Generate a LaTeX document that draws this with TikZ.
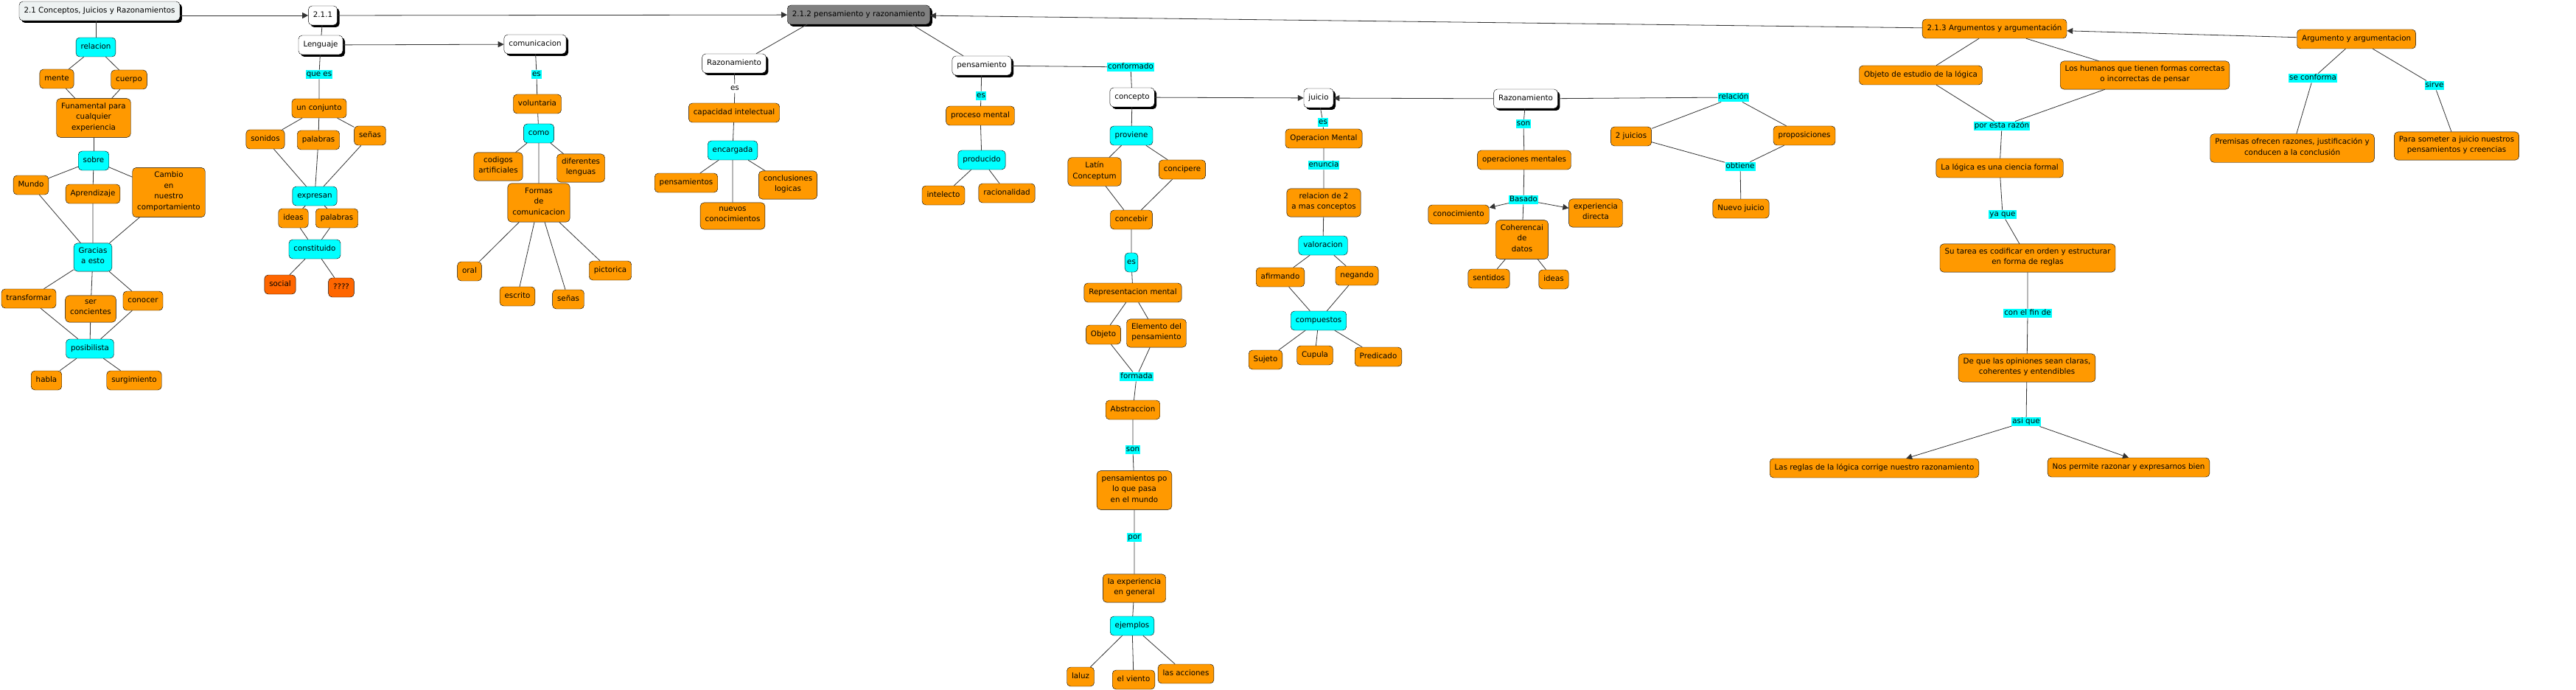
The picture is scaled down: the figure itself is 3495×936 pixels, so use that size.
\documentclass[tikz,border=0pt]{standalone}
\usepackage{fontspec}
\setmainfont{DejaVu Sans}
\usetikzlibrary{shadows, arrows.meta}

\definecolor{maporange}{RGB}{255,153,0}
\definecolor{mapcyan}{RGB}{0,255,255}
\definecolor{mapred}{RGB}{255,102,0}
\definecolor{mapgray}{RGB}{128,128,128}
\definecolor{maptitle}{RGB}{238,242,242}

\begin{document}
\begin{tikzpicture}[x=1pt, y=-1pt, >={Triangle[length=8pt,width=8pt]},
  every node/.style={font=\fontsize{10.3}{14.5}\selectfont, align=center},
  basebox/.style={draw, rounded corners=5pt, inner xsep=6.5pt, inner ysep=5.75pt,
    execute at begin node=\strut, execute at end node=\strut},
  conceptbox/.style={basebox, fill=maporange},
  redbox/.style={basebox, fill=mapred},
  linkbox/.style={basebox, fill=mapcyan},
  topicbox/.style={basebox, fill=white,
    drop shadow={shadow xshift=3pt, shadow yshift=-3pt, opacity=1, fill=black}},
  linkword/.style={fill=mapcyan, inner sep=1pt, text height=8pt, text depth=2.5pt},
  plainword/.style={inner sep=1pt, text height=8pt, text depth=2.5pt},
  connector/.style={draw=black!80, line width=0.8pt}]
  \useasboundingbox (0,0) rectangle (3495,936);

  % 2.1 conceptos
  \node[topicbox, fill=maptitle] (t21) at (135,15) {2.1 Conceptos, Juicios y Razonamientos};
  \node[linkbox] (relacion) at (130,64) {relacion};
  \node[conceptbox] (mente) at (77,107) {mente};
  \node[conceptbox] (cuerpo) at (175,108) {cuerpo};
  \node[conceptbox] (fundam) at (127,160) {Funamental para\\cualquier\\experiencia};
  \node[linkbox] (sobre) at (127,218) {sobre};
  \node[conceptbox] (mundo) at (42,251) {Mundo};
  \node[conceptbox] (aprend) at (126,263) {Aprendizaje};
  \node[conceptbox] (cambio) at (229,261) {Cambio\\en\\nuestro\\comportamiento};
  \node[linkbox] (gracias) at (126,349) {Gracias\\a esto};
  \node[conceptbox] (transf) at (39,405) {transformar};
  \node[conceptbox] (concien) at (123,419) {ser\\concientes};
  \node[conceptbox] (conocer) at (194,408) {conocer};
  \node[linkbox] (posib) at (122,473) {posibilista};
  \node[conceptbox] (habla) at (63,516) {habla};
  \node[conceptbox] (surgim) at (182,516) {surgimiento};

  % 2.1.1 lenguaje
  \node[topicbox] (t211) at (438,21) {2.1.1};
  \node[topicbox] (lenguaje) at (435,61) {Lenguaje};
  \node[linkword] (quees) at (433,101) {que es};
  \node[conceptbox] (conjunto) at (433,147) {un conjunto};
  \node[conceptbox] (sonidos) at (360,189) {sonidos};
  \node[conceptbox] (palabras) at (432,190) {palabras};
  \node[conceptbox] (senas) at (502,184) {señas};
  \node[linkbox] (expresan) at (427,266) {expresan};
  \node[conceptbox] (ideas) at (398,296) {ideas};
  \node[conceptbox] (palabrasb) at (457,296) {palabras};
  \node[linkbox] (constit) at (427,338) {constituido};
  \node[redbox] (social) at (380,386) {social};
  \node[redbox] (incog) at (463,390) {????};

  \node[topicbox] (comunic) at (726,60) {comunicacion};
  \node[linkword] (esA) at (728,101) {es};
  \node[conceptbox] (volunt) at (729,141) {voluntaria};
  \node[linkbox] (como) at (731,181) {como};
  \node[conceptbox] (codigos) at (676,226) {codigos\\artificiales};
  \node[conceptbox] (difer) at (788,228) {diferentes\\lenguas};
  \node[conceptbox] (formas) at (731,275) {Formas\\de\\comunicacion};
  \node[conceptbox] (oral) at (637,368) {oral};
  \node[conceptbox] (escrito) at (702,402) {escrito};
  \node[conceptbox] (senasb) at (771,406) {señas};
  \node[conceptbox] (pictor) at (828,367) {pictorica};

  % 2.1.2 pensamiento
  \node[topicbox, fill=mapgray] (t212) at (1165,20) {2.1.2 pensamiento y razonamiento};
  \node[topicbox] (razonA) at (996,86) {Razonamiento};
  \node[plainword] (esB) at (997,120) {es};
  \node[conceptbox] (capac) at (996,153) {capacidad intelectual};
  \node[linkbox] (encarg) at (994,204) {encargada};
  \node[conceptbox] (pensams) at (931,248) {pensamientos};
  \node[conceptbox] (conclus) at (1069,251) {conclusiones\\logicas};
  \node[conceptbox] (nuevos) at (994,293) {nuevos\\conocimientos};

  \node[topicbox] (pensam) at (1332,89) {pensamiento};
  \node[linkword] (esC) at (1331,130) {es};
  \node[conceptbox] (proceso) at (1330,157) {proceso mental};
  \node[linkbox] (producido) at (1332,217) {producido};
  \node[conceptbox] (intelecto) at (1280,265) {intelecto};
  \node[conceptbox] (racional) at (1366,262) {racionalidad};

  \node[linkword] (conformado) at (1534,91) {conformado};
  \node[topicbox] (concepto) at (1536,132) {concepto};
  \node[linkbox] (proviene) at (1535,184) {proviene};
  \node[conceptbox] (latin) at (1485,233) {Latín\\Conceptum};
  \node[conceptbox] (concipere) at (1604,230) {concipere};
  \node[conceptbox] (concebir) at (1535,298) {concebir};
  \node[linkbox, inner xsep=3pt] (esbox) at (1535,356) {es};
  \node[conceptbox] (repres) at (1537,397) {Representacion mental};
  \node[conceptbox] (objeto) at (1497,454) {Objeto};
  \node[conceptbox] (elemento) at (1569,452) {Elemento del\\pensamiento};
  \node[linkword] (formada) at (1542,511) {formada};
  \node[conceptbox] (abstrac) at (1537,556) {Abstraccion};
  \node[linkword] (sonA) at (1537,610) {son};
  \node[conceptbox] (penspo) at (1539,665) {pensamientos po\\lo que pasa\\en el mundo};
  \node[linkword] (por) at (1539,729) {por};
  \node[conceptbox] (experien) at (1539,798) {la experiencia\\en general};
  \node[linkbox] (ejemplos) at (1536,849) {ejemplos};
  \node[conceptbox] (laluz) at (1466,918) {laluz};
  \node[conceptbox] (viento) at (1538,922) {el viento};
  \node[conceptbox] (acciones) at (1609,914) {las acciones};

  \node[topicbox] (juicio) at (1789,133) {juicio};
  \node[linkword] (esD) at (1795,166) {es};
  \node[conceptbox] (operac) at (1796,188) {Operacion Mental};
  \node[linkword] (enuncia) at (1796,224) {enuncia};
  \node[conceptbox] (relac2) at (1796,275) {relacion de 2\\a mas conceptos};
  \node[linkbox] (valorac) at (1795,333) {valoracion};
  \node[conceptbox] (afirm) at (1737,376) {afirmando};
  \node[conceptbox] (negando) at (1841,374) {negando};
  \node[linkbox] (compuestos) at (1789,435) {compuestos};
  \node[conceptbox] (sujeto) at (1717,488) {Sujeto};
  \node[conceptbox] (cupula) at (1784,482) {Cupula};
  \node[conceptbox] (predic) at (1870,484) {Predicado};

  \node[topicbox] (razonB) at (2070,134) {Razonamiento};
  \node[linkword] (sonB) at (2067,168) {son};
  \node[conceptbox] (operments) at (2068,217) {operaciones mentales};
  \node[linkword] (basado) at (2067,271) {Basado};
  \node[conceptbox] (conocim) at (1979,291) {conocimiento};
  \node[conceptbox] (expdir) at (2165,289) {experiencia\\directa};
  \node[conceptbox] (coheren) at (2065,325) {Coherencai\\de\\datos};
  \node[conceptbox] (sentidos) at (2020,378) {sentidos};
  \node[conceptbox] (ideasb) at (2108,379) {ideas};

  \node[linkword] (relacionB) at (2352,132) {relación};
  \node[conceptbox] (juicios2) at (2213,185) {2 juicios};
  \node[conceptbox] (propos) at (2448,184) {proposiciones};
  \node[linkword] (obtiene) at (2361,226) {obtiene};
  \node[conceptbox] (nuevojuicio) at (2362,283) {Nuevo juicio};

  % 2.1.3 argumentos
  \node[conceptbox] (t213) at (2706,39) {2.1.3 Argumentos y argumentación};
  \node[conceptbox] (argum) at (3197,53) {Argumento y argumentacion};
  \node[linkword] (seconf) at (3138,106) {se conforma};
  \node[linkword] (sirve) at (3303,116) {sirve};
  \node[conceptbox] (premisas) at (3110,201) {Premisas ofrecen razones, justificación y\\conducen a la conclusión};
  \node[conceptbox] (someter) at (3333,198) {Para someter a juicio nuestros\\pensamientos y creencias};
  \node[conceptbox] (objest) at (2606,102) {Objeto de estudio de la lógica};
  \node[conceptbox] (humanos) at (2910,102) {Los humanos que tienen formas correctas\\o incorrectas de pensar};
  \node[linkword] (porrazon) at (2716,171) {por esta razón};
  \node[conceptbox] (logica) at (2713,228) {La lógica es una ciencia formal};
  \node[linkword] (yaque) at (2717,291) {ya que};
  \node[conceptbox] (tarea) at (2751,350) {Su tarea es codificar en orden y estructurar\\en forma de reglas};
  \node[linkword] (finde) at (2751,425) {con el fin de};
  \node[conceptbox] (opiniones) at (2750,499) {De que las opiniones sean claras,\\coherentes y entendibles};
  \node[linkword] (asique) at (2749,572) {asi que};
  \node[conceptbox] (reglas) at (2543,635) {Las reglas de la lógica corrige nuestro razonamiento};
  \node[conceptbox] (nos) at (2888,634) {Nos permite razonar y expresarnos bien};

  % connectors
  \draw[connector, ->] (t21.east |- t211) -- (t211);
  \draw[connector, ->] (t211) -- (t212);
  \draw[connector] (t21.south -| relacion) -- (relacion);
  \draw[connector] (relacion) -- (mente) -- (fundam) (relacion) -- (cuerpo) -- (fundam);
  \draw[connector] (fundam) -- (sobre);
  \draw[connector] (sobre) -- (mundo) -- (gracias) (sobre) -- (aprend) -- (gracias) (sobre) -- (cambio) -- (gracias);
  \draw[connector] (gracias) -- (transf) -- (posib) (gracias) -- (concien) -- (posib) (gracias) -- (conocer) -- (posib);
  \draw[connector] (posib) -- (habla) (posib) -- (surgim);

  \draw[connector] (t211) -- (lenguaje);
  \draw[connector, ->] (lenguaje) -- (comunic);
  \draw[connector] (lenguaje) -- (quees) -- (conjunto);
  \draw[connector] (conjunto) -- (sonidos) -- (expresan) (conjunto) -- (palabras) -- (expresan) (conjunto) -- (senas) -- (expresan);
  \draw[connector] (expresan) -- (ideas) -- (constit) (expresan) -- (palabrasb) -- (constit);
  \draw[connector] (constit) -- (social) (constit) -- (incog);

  \draw[connector] (comunic) -- (esA) -- (volunt) -- (como);
  \draw[connector] (como) -- (codigos) (como) -- (difer) (como) -- (formas);
  \draw[connector] (formas) -- (oral) (formas) -- (escrito) (formas) -- (senasb) (formas) -- (pictor);

  \draw[connector] ([xshift=-70pt]t212.south) -- ([xshift=30pt]razonA.north);
  \draw[connector] ([xshift=72pt]t212.south) -- ([xshift=-25pt]pensam.north);
  \draw[connector] (razonA) -- (esB) -- (capac) -- (encarg);
  \draw[connector] (encarg) -- (pensams) (encarg) -- (nuevos) (encarg) -- (conclus);

  \draw[connector] (pensam) -- (esC) -- (proceso) -- (producido);
  \draw[connector] (producido) -- (intelecto) (producido) -- (racional);

  \draw[connector] (pensam) -- (conformado) -- (concepto);
  \draw[connector, ->] (concepto) -- (juicio);
  \draw[connector] (concepto) -- (proviene);
  \draw[connector] (proviene) -- (latin) -- (concebir) (proviene) -- (concipere) -- (concebir);
  \draw[connector] (concebir) -- (esbox) -- (repres);
  \draw[connector] (repres) -- (objeto) -- (formada) (repres) -- (elemento) -- (formada);
  \draw[connector] (formada) -- (abstrac) -- (sonA) -- (penspo) -- (por) -- (experien) -- (ejemplos);
  \draw[connector] (ejemplos) -- (laluz) (ejemplos) -- (viento) (ejemplos) -- (acciones);

  \draw[connector] (juicio) -- (esD) -- (operac) -- (enuncia) -- (relac2) -- (valorac);
  \draw[connector] (valorac) -- (afirm) -- (compuestos) (valorac) -- (negando) -- (compuestos);
  \draw[connector] (compuestos) -- (sujeto) (compuestos) -- (cupula) (compuestos) -- (predic);

  \draw[connector, ->] (razonB) -- (juicio);
  \draw[connector] (razonB) -- (sonB) -- (operments) -- (basado) -- (coheren);
  \draw[connector, ->] (basado) -- (conocim);
  \draw[connector, ->] (basado) -- (expdir);
  \draw[connector] (coheren) -- (sentidos) (coheren) -- (ideasb);

  \draw[connector] (razonB) -- (relacionB);
  \draw[connector] (relacionB) -- (juicios2) -- (obtiene) (relacionB) -- (propos) -- (obtiene);
  \draw[connector] (obtiene) -- (nuevojuicio);

  \draw[connector, ->] (t213) -- (t212);
  \draw[connector, ->] (argum) -- (t213);
  \draw[connector] (argum) -- (seconf) -- (premisas) (argum) -- (sirve) -- (someter);
  \draw[connector] (t213) -- (objest) (t213) -- (humanos);
  \draw[connector] (objest) -- (porrazon) (humanos) -- (porrazon);
  \draw[connector] (porrazon) -- (logica) -- (yaque) -- (tarea) -- (finde) -- (opiniones) -- (asique);
  \draw[connector, ->] (asique) -- (reglas);
  \draw[connector, ->] (asique) -- (nos.north);
\end{tikzpicture}
\end{document}
